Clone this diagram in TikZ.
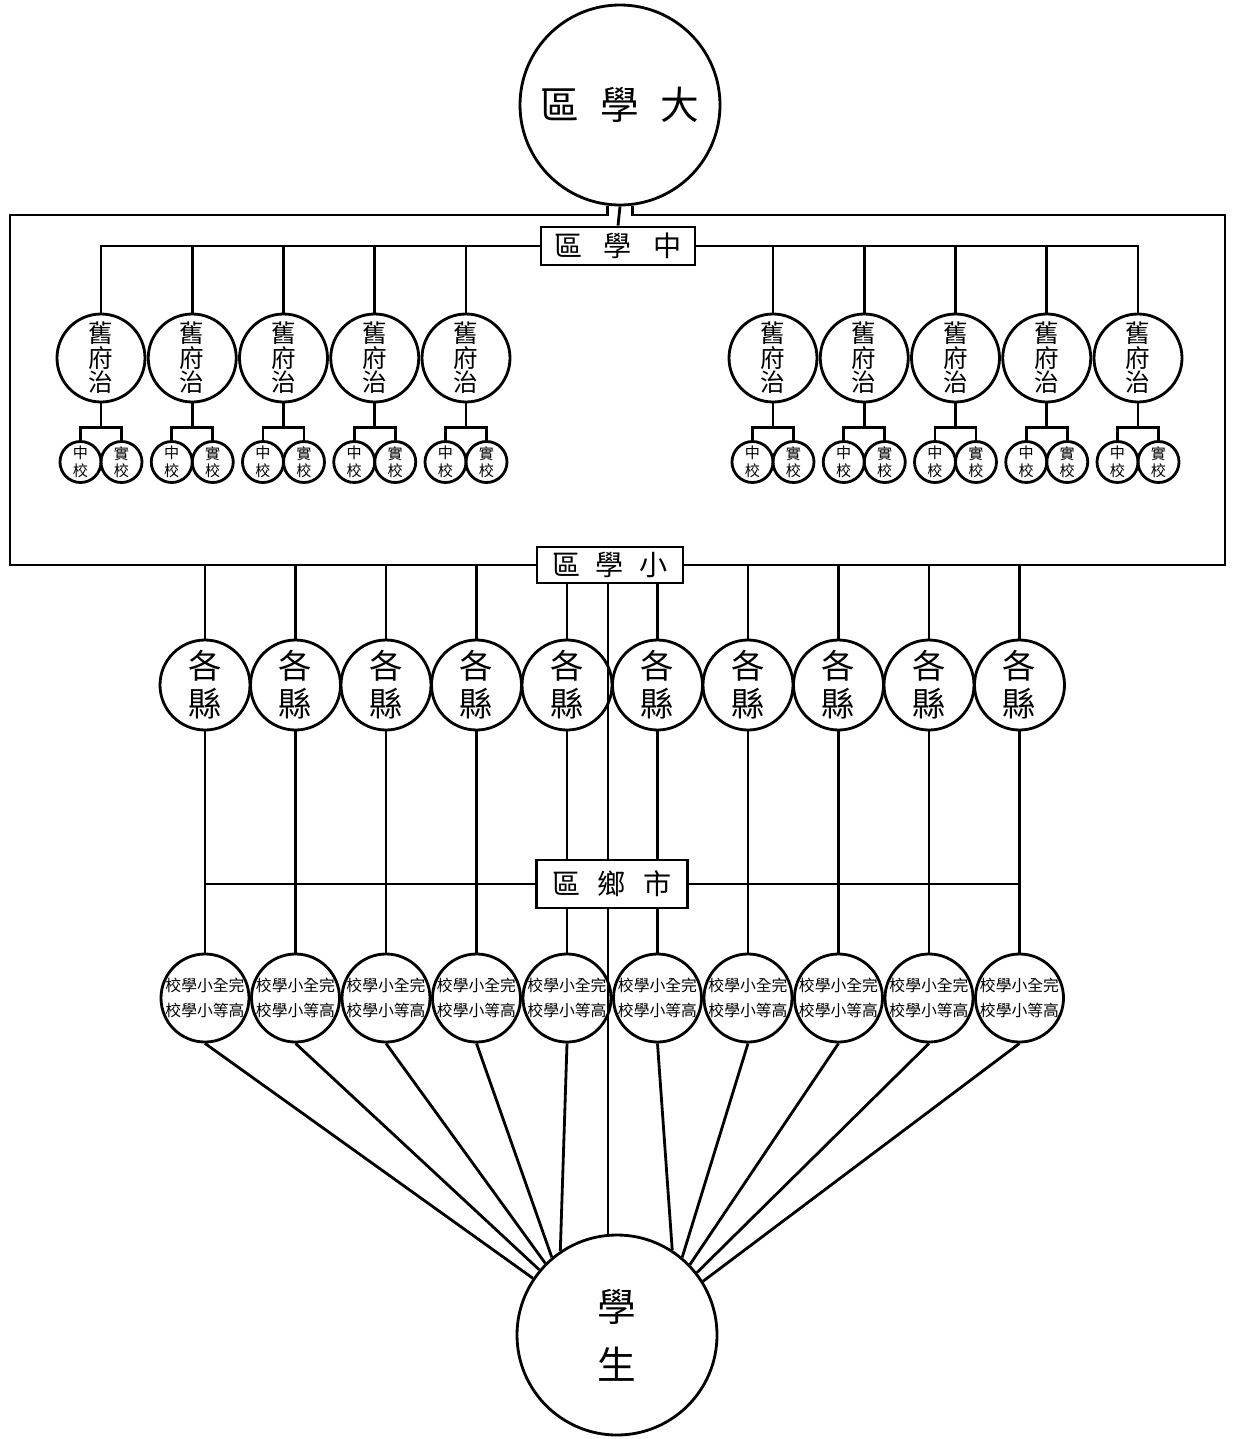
\documentclass[tikz,border=0pt]{standalone}
\usepackage{fontspec}
\newfontfamily\cjk{Noto Sans CJK TC}
\tikzset{
  ring/.style={circle, draw, inner sep=0pt, align=center},
  bigring/.style={ring, minimum size=20mm, font=\cjk\fontsize{11pt}{16.5pt}\selectfont},
  furing/.style={ring, minimum size=8.8mm, font=\cjk\fontsize{7pt}{7pt}\selectfont},
  schring/.style={ring, minimum size=4.1mm, font=\cjk\fontsize{4.3pt}{5pt}\selectfont},
  xianring/.style={ring, minimum size=9mm, font=\cjk\fontsize{9.5pt}{10.8pt}\selectfont},
  xqring/.style={ring, minimum size=8.6mm, font=\cjk\fontsize{4.5pt}{7pt}\selectfont},
  areabox/.style={draw, fill=white, inner sep=0pt, font=\cjk\fontsize{8pt}{8pt}\selectfont},
}
\begin{document}
\begin{tikzpicture}[x=0.1mm, y=-0.1mm, line width=0.8pt]
    \useasboundingbox (0,0) rectangle (1239,1439);
    % university region
    \node[bigring] (daxue) at (620,105) {區\hspace{6pt}學\hspace{6pt}大};
    % students
    \node[bigring] (xuesheng) at (617,1335) {學\\生};
    % prefectures with their schools
    \foreach \side/\x in {L/101, R/773} {
        \foreach \i in {1,...,5} {
            \pgfmathsetmacro\cx{\x+91.25*(\i-1)}
            \node[furing] (fu\side\i) at (\cx,358) {舊\\府\\治};
            \node[schring] (zx\side\i) at (\cx-20.5,462) {中\\校};
            \node[schring] (sx\side\i) at (\cx+20.5,462) {實\\校};
            \draw (fu\side\i.south) -- ++(0,24) coordinate (br\side\i);
            \draw (zx\side\i.north) |- (br\side\i) -| (sx\side\i.north);
        }
    }
    % middle school region
    \node[areabox, minimum width=15.4mm, minimum height=3.8mm] (zhong) at (618,246) {區\hspace{6pt}學\hspace{6pt}中};
    \draw (daxue.south) -- (zhong.north);
    \draw (fuL1.north) |- (zhong.west);
    \draw (fuR5.north) |- (zhong.east);
    \foreach \i in {2,...,5} \draw (fuL\i.north) -- (fuL\i.north |- zhong.west);
    \foreach \i in {1,...,4} \draw (fuR\i.north) -- (fuR\i.north |- zhong.west);
    % counties and village schools
    \coordinate (xiaoc) at (610,565);
    \coordinate (xiangc) at (612,884);
    \foreach \i in {1,...,10} {
        \pgfmathsetmacro\cx{205+90.5*(\i-1)}
        \node[xianring] (xian\i) at (\cx,685) {各\\縣};
        \node[xqring] (xq\i) at (\cx,998) {校學小全完\\校學小等高};
        \draw (xian\i.north) -- (xian\i.north |- xiaoc);
        \draw (xian\i.south) -- (xq\i.north);
    }
    \draw (xian1.south |- xiangc) -- (xian10.south |- xiangc);
    \coordinate (stem) at (608,565);
    \draw (stem) -- (stem |- xuesheng.north);
    % fan to students
    \foreach \i/\a in {1/146, 2/140, 3/135, 4/130, 5/124, 6/57, 7/50, 8/44, 9/38, 10/32}
        \draw (xq\i.south) -- (xuesheng.\a);
    % small school and village regions
    \node[areabox, minimum width=14.6mm, minimum height=3.6mm] (xiao) at (xiaoc) {區\hspace{4.5pt}學\hspace{4.5pt}小};
    \node[areabox, minimum width=15.1mm, minimum height=4.8mm] (xiang) at (xiangc) {區\hspace{5pt}鄉\hspace{5pt}市};
    % frame
    \coordinate (frameTL) at (10,215);
    \coordinate (frameTR) at (1225,215);
    \draw (daxue.-97) |- (frameTL) |- (xiao.west);
    \draw (daxue.-83) |- (frameTR) |- (xiao.east);
\end{tikzpicture}
\end{document}
